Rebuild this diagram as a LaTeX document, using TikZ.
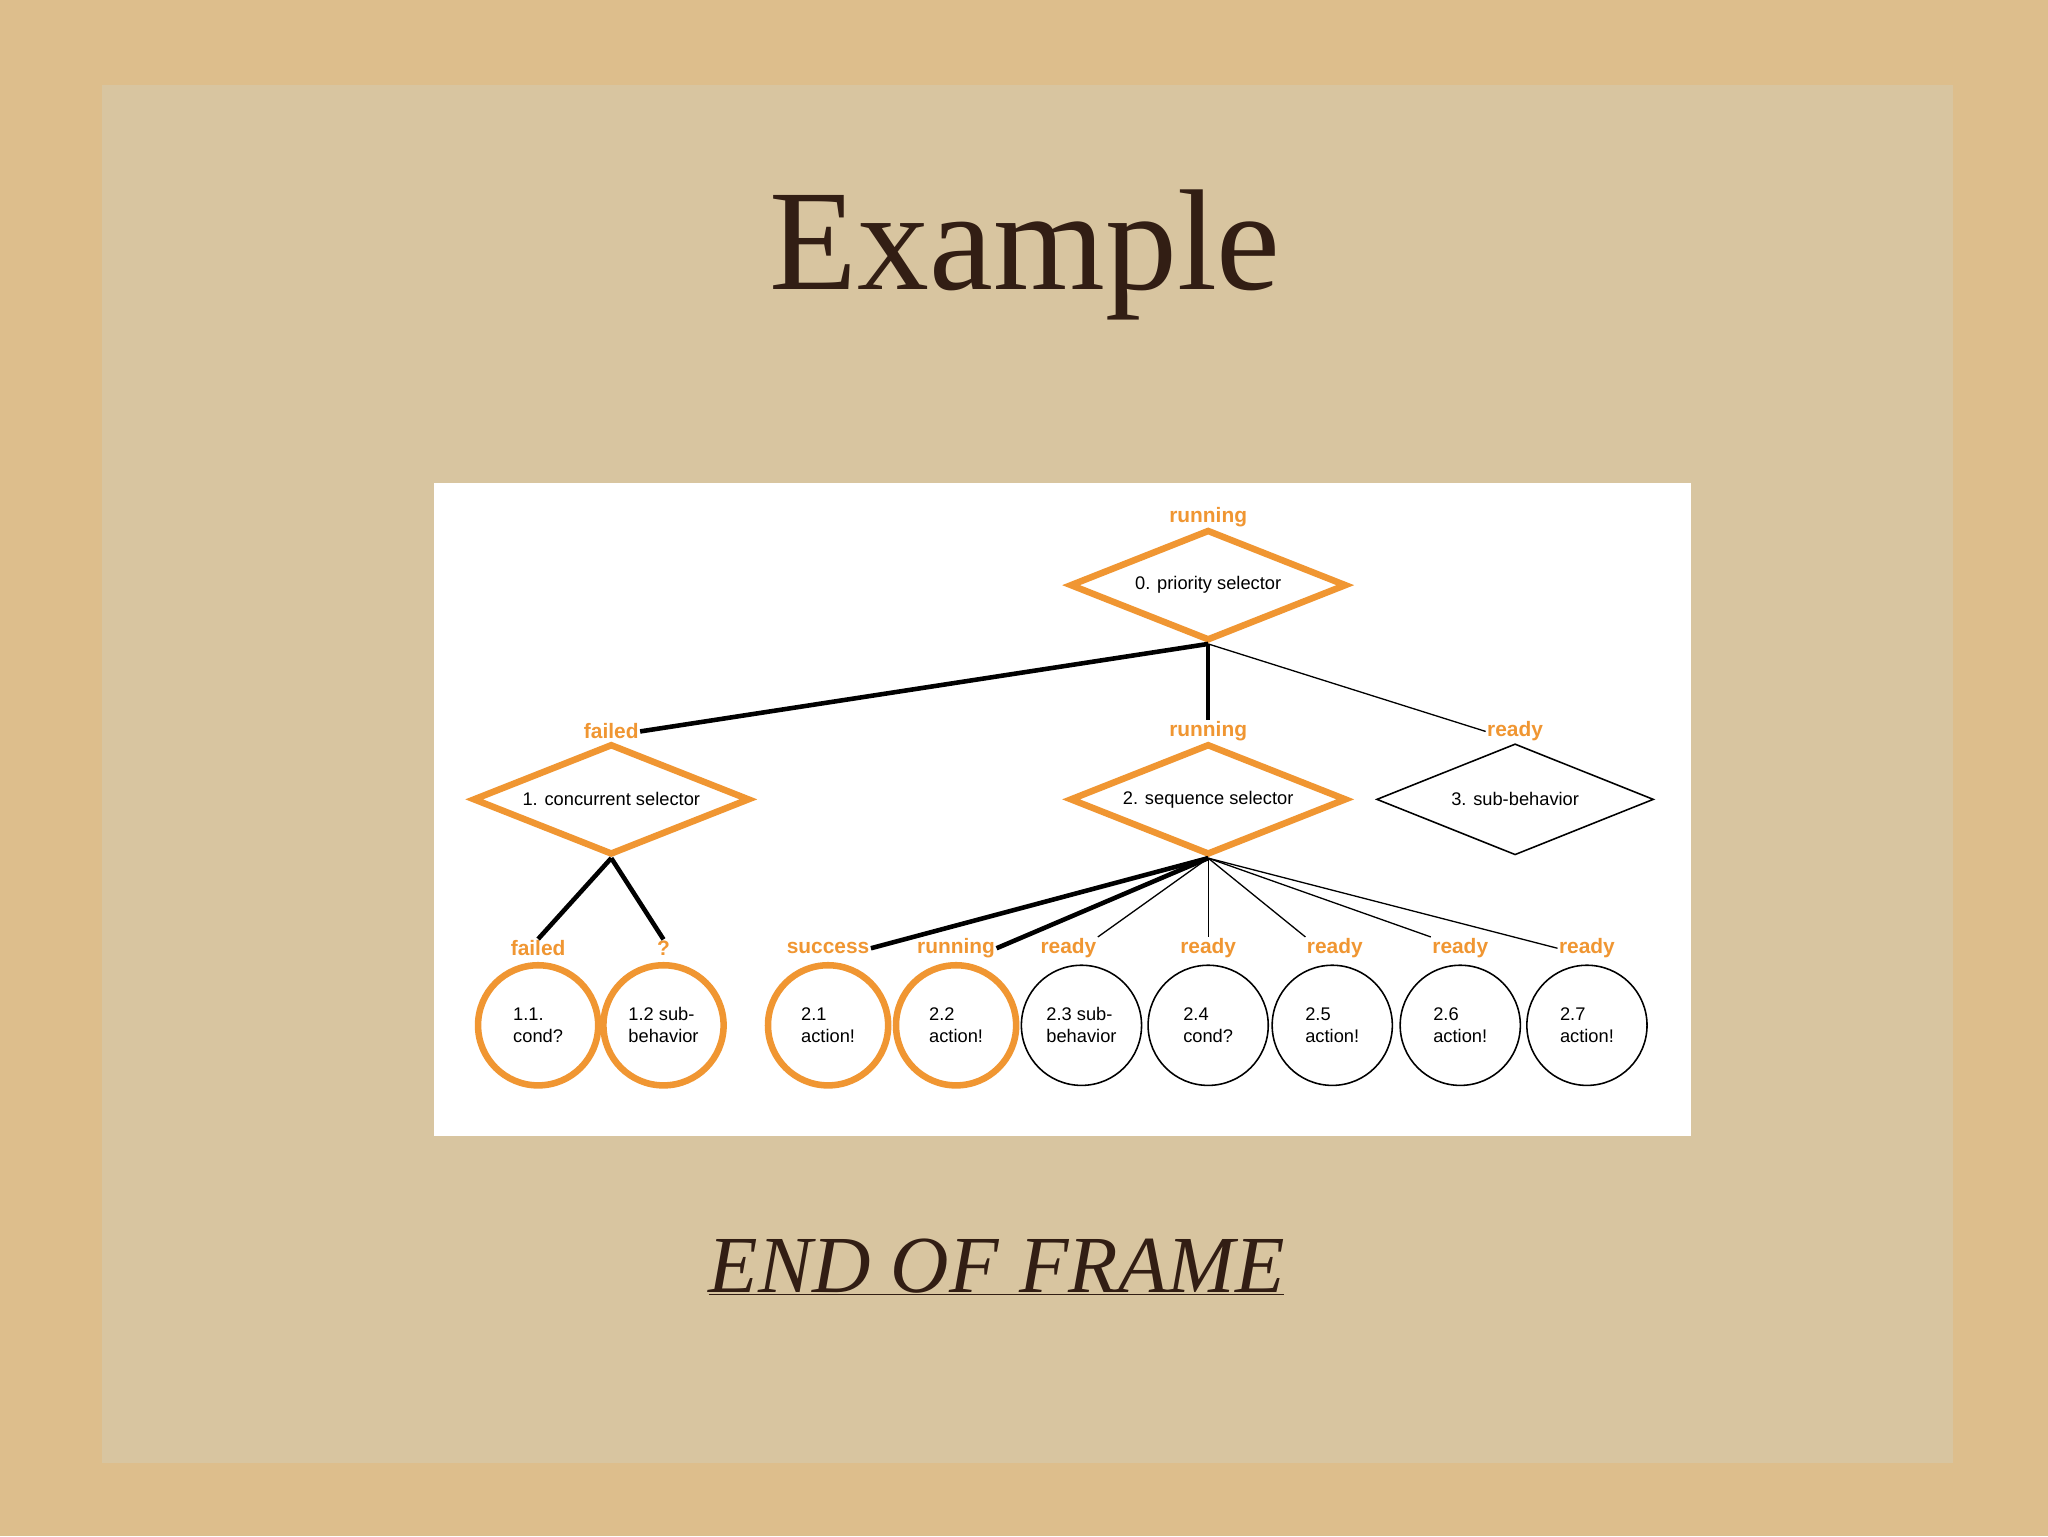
\documentclass[tikz,border=0pt]{standalone}
\usepackage{fontspec}
\setmainfont{Liberation Serif}
\setsansfont{Liberation Sans}
\usetikzlibrary{shapes.geometric}
\definecolor{sand}{RGB}{221,190,140}
\definecolor{paper}{RGB}{216,197,160}
\definecolor{org}{RGB}{240,150,50}
\definecolor{ink}{RGB}{50,30,20}
\tikzset{
 dia/.style={diamond,draw=org,line width=5pt,fill=white,aspect=2.5,minimum width=212pt,minimum height=85pt,inner sep=0pt,font=\sffamily\fontsize{14}{16}\selectfont},
 bdia/.style={dia,draw=black,line width=1.2pt},
 circ/.style={circle,draw=org,line width=5pt,fill=white,minimum size=92pt,inner sep=0pt,align=left,font=\sffamily\fontsize{14}{17}\selectfont},
 bcirc/.style={circ,draw=black,line width=1.2pt},
 lab/.style={text=org,font=\sffamily\bfseries\fontsize{16}{18}\selectfont,inner sep=1pt},
 thick/.style={line width=3.5pt},
 thin/.style={line width=1pt}
}
\begin{document}
\begin{tikzpicture}[x=1pt,y=-1pt]
\useasboundingbox (0,0) rectangle (1568,1176);
\fill[sand] (0,0) rectangle (1568,1176);
\fill[paper] (78,65) rectangle (1495,1120);
\fill[white] (332,370) rectangle (1295,870);
\node[text=ink,font=\fontsize{110}{120}\selectfont] (title) at (785,195) {Example};
\node[text=ink,font=\itshape\fontsize{62}{70}\selectfont] (end) at (763,970) {\underline{END OF FRAME}};
% diamonds
\node[dia] (d0) at (925,448) {0. priority selector};
\node[dia] (d1) at (468,612) {1. concurrent selector};
\node[dia] (d2) at (925,612) {2. sequence selector};
\node[bdia] (d3) at (1160,612) {3. sub-behavior};
\node[lab] (l0) at (925,396) {running};
\node[lab] (l1) at (468,560) {failed};
\node[lab] (l2) at (925,560) {running};
\node[lab] (l3) at (1160,560) {ready};
% circles
\node[circ] (c11) at (412,785) {1.1.\\cond?};
\node[circ] (c12) at (508,785) {1.2 sub-\\behavior};
\node[circ] (c21) at (634,785) {2.1\\action!};
\node[circ] (c22) at (732,785) {2.2\\action!};
\node[bcirc] (c23) at (828,785) {2.3 sub-\\behavior};
\node[bcirc] (c24) at (925,785) {2.4\\cond?};
\node[bcirc] (c25) at (1020,785) {2.5\\action!};
\node[bcirc] (c26) at (1118,785) {2.6\\action!};
\node[bcirc] (c27) at (1215,785) {2.7\\action!};
\node[lab] (k11) at (412,726) {failed};
\node[lab] (k12) at (508,726) {?};
\node[lab] (k21) at (634,726) {success};
\node[lab] (k22) at (732,726) {running};
\node[lab] (k23) at (818,726) {ready};
\node[lab] (k24) at (925,726) {ready};
\node[lab] (k25) at (1022,726) {ready};
\node[lab] (k26) at (1118,726) {ready};
\node[lab] (k27) at (1215,726) {ready};
% edges
\draw[thick] (d0.south) -- (l1.east);
\draw[thick] (d0.south) -- (l2.north);
\draw[thin] (d0.south) -- (l3.west);
\draw[thick] (d1.south) -- (k11.north);
\draw[thick] (d1.south) -- (k12.north);
\draw[thick] (d2.south) -- (k21.east);
\draw[thick] (d2.south) -- (k22.east);
\draw[thin] (d2.south) -- (k23.north east);
\draw[thin] (d2.south) -- (k24.north);
\draw[thin] (d2.south) -- (k25.north west);
\draw[thin] (d2.south) -- (k26.north west);
\draw[thin] (d2.south) -- (k27.west);
\end{tikzpicture}
\end{document}
